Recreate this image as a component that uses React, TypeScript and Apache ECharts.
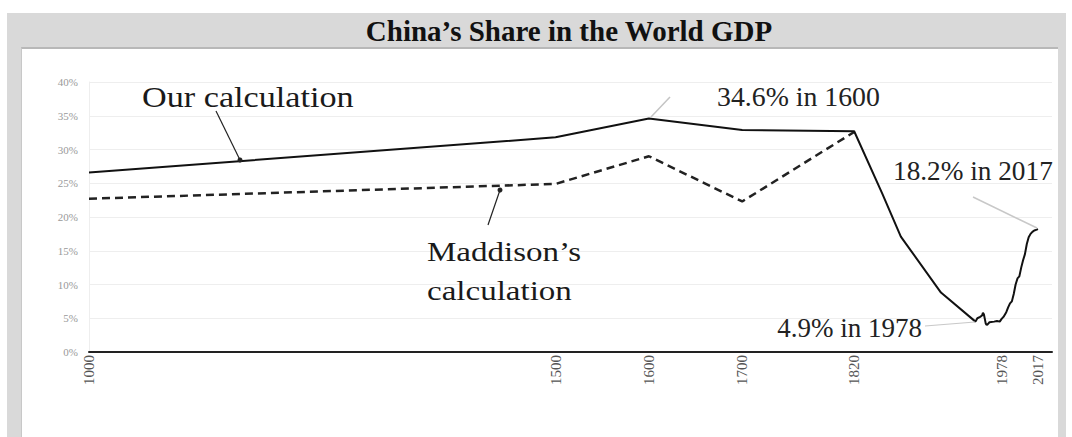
import React, { useEffect, useRef } from "react";
import * as echarts from "echarts";

const titleText = "China’s Share in the World GDP";

// "Our calculation" series (year, % share of world GDP)
const ourYears = [
  1000, 1500, 1600, 1700, 1820, 1850, 1870, 1913, 1950, 1952, 1955, 1957, 1958, 1959,
  1960, 1961, 1962, 1963, 1965, 1970, 1973, 1976, 1978, 1980, 1983, 1985, 1987,
  1989, 1991, 1993, 1995, 1997, 1999, 2001, 2003, 2005, 2007, 2009, 2011, 2013,
  2015, 2017,
];
const ourShare = [
  26.6, 31.8, 34.6, 32.9, 32.7, 23.5, 17.1, 8.8, 4.5, 5.0, 5.2, 5.4, 5.8, 5.6,
  4.9, 4.2, 4.0, 4.1, 4.4, 4.5, 4.6, 4.5, 4.9, 5.2, 5.9, 6.6, 7.2,
  7.5, 8.6, 10.0, 10.9, 11.2, 12.5, 13.6, 14.5, 16.0, 17.0, 17.5, 17.8, 18.0,
  18.1, 18.2,
];

// "Maddison's calculation" series
const maddisonYears = [1000, 1500, 1600, 1700, 1820];
const maddisonShare = [22.7, 24.9, 29.0, 22.3, 32.6];

// axis tick labels
const yearTicks = [1000, 1500, 1600, 1700, 1820, 1978, 2017];
const shareTicks = [0, 5, 10, 15, 20, 25, 30, 35, 40];

const serif = '"Liberation Serif", "Times New Roman", serif';

export default function App() {
  const ref = useRef<HTMLDivElement>(null);

  useEffect(() => {
    const chart = echarts.init(ref.current as HTMLDivElement, null, {
      renderer: "svg",
    });
    const ourData = ourYears.map((y, i) => [y, ourShare[i]]);
    const madData = maddisonYears.map((y, i) => [y, maddisonShare[i]]);

    chart.setOption({
      animation: false,
      backgroundColor: "transparent",
      title: {
        text: titleText,
        left: 569,
        top: 16,
        padding: 0,
        textAlign: "center",
        textStyle: {
          fontFamily: serif,
          fontWeight: "bold",
          fontSize: 29,
          lineHeight: 30,
          color: "#111",
        },
      },
      grid: { left: 89, right: 20, top: 82, bottom: 85, containLabel: false },
      xAxis: {
        type: "value",
        min: 1000,
        max: 2032,
        splitLine: { show: false },
        axisTick: { show: false },
        axisLine: { show: true, lineStyle: { color: "#222", width: 2 } },
        axisLabel: {
          customValues: yearTicks,
          rotate: 90,
          margin: 3,
          fontFamily: serif,
          fontSize: 15,
          color: "#555",
          formatter: (v: number) => String(v),
        },
      },
      yAxis: {
        type: "value",
        min: shareTicks[0],
        max: shareTicks[shareTicks.length - 1],
        interval: 5,
        axisLine: { show: true, lineStyle: { color: "#eeeeee", width: 1 } },
        axisTick: { show: false },
        splitLine: { show: true, lineStyle: { color: "#eeeeee", width: 1 } },
        axisLabel: {
          margin: 11,
          fontFamily: serif,
          fontSize: 11,
          color: "#999",
          formatter: (v: number) => `${v}%`,
        },
      },
      series: [
        {
          name: "Our calculation",
          type: "line",
          data: ourData,
          showSymbol: false,
          symbol: "none",
          z: 3,
          lineStyle: { color: "#111", width: 2 },
        },
        {
          name: "Maddison’s calculation",
          type: "line",
          data: madData,
          showSymbol: false,
          symbol: "none",
          z: 2,
          lineStyle: { color: "#222", width: 2.5, type: [8, 5] },
        },
      ],
      graphic: [
        {
          type: "text",
          z: 100,
          x: 142,
          y: 97,
          scaleX: 1.14,
          style: {
            text: "Our calculation",
            fontFamily: serif,
            fontSize: 30,
            fill: "#1a1a1a",
            verticalAlign: "middle",
            align: "left",
          },
        },
        {
          type: "line",
          z: 100,
          shape: { x1: 216, y1: 111, x2: 240, y2: 160 },
          style: { stroke: "#222", lineWidth: 1.2 },
        },
        {
          type: "circle",
          z: 100,
          shape: { cx: 240, cy: 160, r: 2.5 },
          style: { fill: "#222" },
        },
        {
          type: "text",
          z: 100,
          x: 427,
          y: 252,
          scaleX: 1.18,
          style: {
            text: "Maddison’s",
            fontFamily: serif,
            fontSize: 28,
            fill: "#1a1a1a",
            verticalAlign: "middle",
            align: "left",
          },
        },
        {
          type: "text",
          z: 100,
          x: 427,
          y: 291,
          scaleX: 1.18,
          style: {
            text: "calculation",
            fontFamily: serif,
            fontSize: 28,
            fill: "#1a1a1a",
            verticalAlign: "middle",
            align: "left",
          },
        },
        {
          type: "line",
          z: 100,
          shape: { x1: 488, y1: 225, x2: 500, y2: 190 },
          style: { stroke: "#222", lineWidth: 1.2 },
        },
        {
          type: "circle",
          z: 100,
          shape: { cx: 500, cy: 190, r: 2.5 },
          style: { fill: "#222" },
        },
        {
          type: "text",
          z: 100,
          x: 717,
          y: 97,
          scaleX: 1.03,
          style: {
            text: "34.6% in 1600",
            fontFamily: serif,
            fontSize: 27,
            fill: "#222",
            verticalAlign: "middle",
            align: "left",
          },
        },
        {
          type: "line",
          z: 100,
          shape: { x1: 651, y1: 117, x2: 670, y2: 97 },
          style: { stroke: "#c4c4c4", lineWidth: 1.5 },
        },
        {
          type: "text",
          z: 100,
          x: 893,
          y: 171,
          scaleX: 1.01,
          style: {
            text: "18.2% in 2017",
            fontFamily: serif,
            fontSize: 27,
            fill: "#222",
            verticalAlign: "middle",
            align: "left",
          },
        },
        {
          type: "line",
          z: 100,
          shape: { x1: 973, y1: 197, x2: 1037, y2: 228 },
          style: { stroke: "#c8c8c8", lineWidth: 1.5 },
        },
        {
          type: "text",
          z: 100,
          x: 922,
          y: 328,
          style: {
            text: "4.9% in 1978",
            fontFamily: serif,
            fontSize: 27,
            fill: "#222",
            verticalAlign: "middle",
            align: "right",
          },
        },
        {
          type: "line",
          z: 100,
          shape: { x1: 925, y1: 326, x2: 975, y2: 322 },
          style: { stroke: "#c8c8c8", lineWidth: 1 },
        },
      ],
    });

    return () => {
      chart.dispose();
    };
  }, []);

  return (
    <div
      style={{
        position: "fixed",
        left: 0,
        top: 0,
        width: 1072,
        height: 437,
        background: "#ffffff",
      }}
    >
      <div
        style={{
          position: "absolute",
          left: 7,
          top: 13,
          width: 1059,
          height: 424,
          background: "#d9d9d9",
        }}
      />
      <div
        style={{
          position: "absolute",
          left: 21,
          top: 47,
          width: 1037,
          height: 390,
          background: "#ffffff",
          borderTop: "2px solid #b8b8b8",
          borderLeft: "1px solid #c8c8c8",
          boxSizing: "border-box",
        }}
      />
      <div
        ref={ref}
        style={{
          position: "absolute",
          left: 0,
          top: 0,
          width: 1072,
          height: 437,
        }}
      />
    </div>
  );
}
